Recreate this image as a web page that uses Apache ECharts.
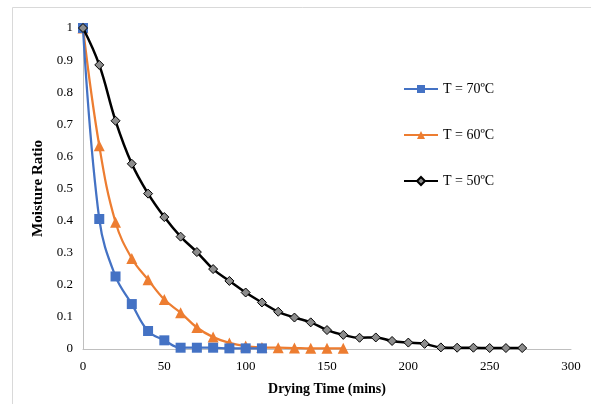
<!DOCTYPE html>
<html><head><meta charset="utf-8">
<script src="https://cdn.jsdelivr.net/npm/echarts@6/dist/echarts.min.js"></script>
<style>html,body{margin:0;padding:0;background:#fff}#c{width:591px;height:404px}</style>
</head><body><div id="c"></div>
<script>
const time70 = [0,10,20,30,40,50,60,70,80,90,100,110];
const mr70 = [1,0.405,0.226,0.14,0.056,0.027,0.004,0.004,0.004,0.002,0.002,0.002];
const time60 = [0,10,20,30,40,50,60,70,80,90,100,110,120,130,140,150,160];
const mr60 = [1,0.633,0.395,0.282,0.216,0.154,0.113,0.067,0.037,0.019,0.009,0.005,0.004,0.003,0.002,0.002,0.002];
const time50 = [0,10,20,30,40,50,60,70,80,90,100,110,120,130,140,150,160,170,180,190,200,210,220,230,240,250,260,270];
const mr50 = [1,0.885,0.711,0.577,0.484,0.411,0.35,0.302,0.249,0.212,0.176,0.145,0.116,0.098,0.083,0.059,0.044,0.035,0.036,0.025,0.02,0.016,0.005,0.004,0.004,0.003,0.003,0.003];
const seriesNames = ['T = 70ºC','T = 60ºC','T = 50ºC'];
const xTicks = [0,50,100,150,200,250,300];
const yTicks = [0,0.1,0.2,0.3,0.4,0.5,0.6,0.7,0.8,0.9,1];

const pairs = (xs, ys) => xs.map((x,i)=>[x, ys[i]]);
const serif = '"Liberation Serif","Times New Roman",serif';
const chart = echarts.init(document.getElementById('c'), null, {renderer:'canvas'});
chart.setOption({
  animation:false,
  backgroundColor:'#fff',
  graphic:[{type:'rect', shape:{x:12.5,y:7.5,width:700,height:500}, style:{fill:'none', stroke:'#d9d9d9', lineWidth:1}, z:-1}],
  grid:{left:83, top:28, right:20, bottom:55},
  legend:{
    orient:'vertical', left:403, top:82, padding:0, itemGap:32, itemWidth:34, itemHeight:10,
    textStyle:{fontFamily:serif, fontSize:14, color:'#000'},
    data:seriesNames
  },
  xAxis:{
    type:'value', min:xTicks[0], max:xTicks[xTicks.length-1], interval:50,
    name:'Drying Time (mins)', nameLocation:'middle', nameGap:33,
    nameTextStyle:{fontFamily:serif, fontSize:14, fontWeight:'bold', color:'#000'},
    axisLine:{show:true, lineStyle:{color:'#bfbfbf', width:1}},
    axisTick:{show:false}, splitLine:{show:false},
    axisLabel:{fontFamily:serif, fontSize:13, color:'#000', margin:11}
  },
  yAxis:{
    type:'value', min:yTicks[0], max:yTicks[yTicks.length-1], interval:0.1,
    name:'Moisture Ratio', nameLocation:'middle', nameGap:32,
    nameTextStyle:{fontFamily:serif, fontSize:15, fontWeight:'bold', color:'#000'},
    axisLine:{show:true, lineStyle:{color:'#bfbfbf', width:1}},
    axisTick:{show:false}, splitLine:{show:false},
    axisLabel:{fontFamily:serif, fontSize:13, color:'#000', margin:10,
      formatter:v=>String(Math.round(v*10)/10)}
  },
  series:[
    {name:seriesNames[0], type:'line', smooth:0.4, data:pairs(time70, mr70),
     symbol:'rect', symbolSize:10, lineStyle:{color:'#4472C4', width:2.25},
     itemStyle:{color:'#4472C4'}, z:3},
    {name:seriesNames[1], type:'line', smooth:0.4, data:pairs(time60, mr60),
     symbol:'triangle', symbolSize:11, lineStyle:{color:'#ED7D31', width:2.25},
     itemStyle:{color:'#ED7D31'}, z:2},
    {name:seriesNames[2], type:'line', smooth:0.4, data:pairs(time50, mr50),
     symbol:'diamond', symbolSize:9, lineStyle:{color:'#000', width:2.5},
     itemStyle:{color:'#8c8c8c', borderColor:'#000', borderWidth:1}, z:4}
  ]
});
</script></body></html>
